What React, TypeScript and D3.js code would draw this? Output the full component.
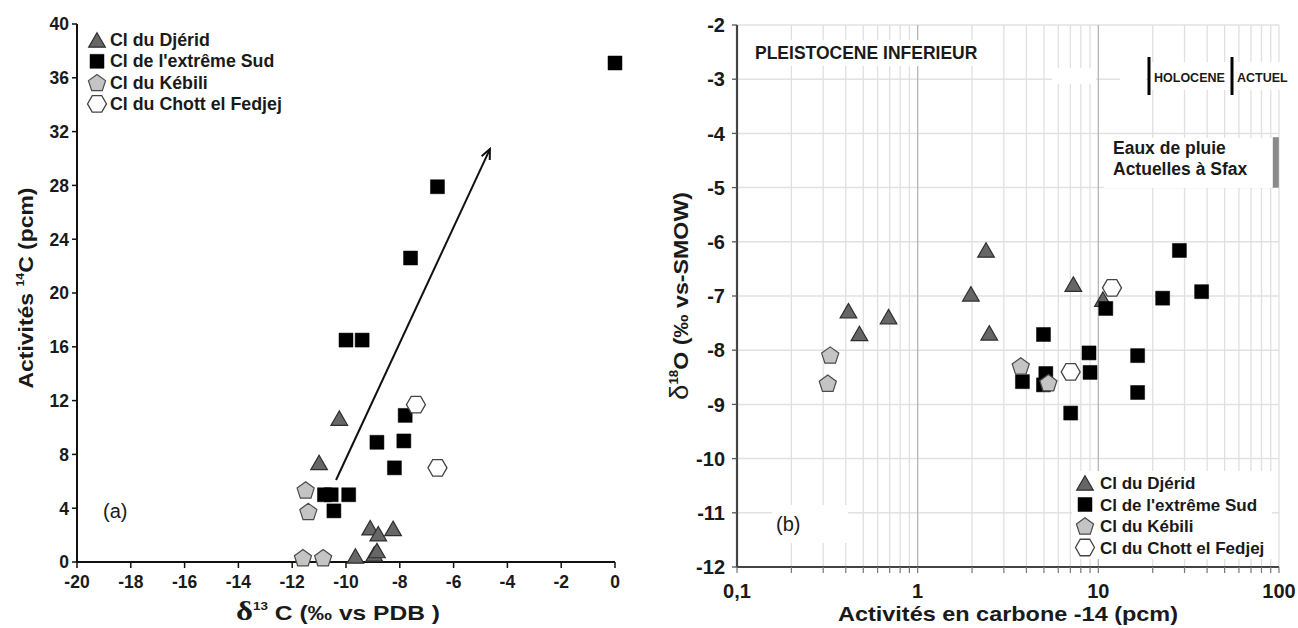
import React from 'react';
import * as d3 from 'd3';

type P = { x: number; y: number };

// ---------- Panel (a): δ13C vs 14C activity ----------
const djeridA: P[] = [
  { x: -10.25, y: 10.7 }, { x: -11.0, y: 7.4 }, { x: -9.1, y: 2.55 }, { x: -8.8, y: 2.1 },
  { x: -8.25, y: 2.5 }, { x: -9.65, y: 0.45 }, { x: -8.95, y: 0.6 }, { x: -8.85, y: 0.85 },
];
const sudA: P[] = [
  { x: 0, y: 37.1 }, { x: -6.6, y: 27.9 }, { x: -7.6, y: 22.6 }, { x: -10.0, y: 16.5 },
  { x: -9.4, y: 16.5 }, { x: -7.8, y: 10.9 }, { x: -8.85, y: 8.9 }, { x: -7.85, y: 9.0 },
  { x: -8.2, y: 7.0 }, { x: -10.8, y: 5.0 }, { x: -10.55, y: 5.0 }, { x: -9.9, y: 5.0 },
  { x: -10.45, y: 3.8 },
];
const kebiliA: P[] = [
  { x: -11.5, y: 5.35 }, { x: -11.4, y: 3.75 }, { x: -11.6, y: 0.32 }, { x: -10.85, y: 0.32 },
];
const fedjejA: P[] = [{ x: -7.4, y: 11.7 }, { x: -6.6, y: 7.0 }];
const arrowA: P[] = [{ x: -10.37, y: 6.1 }, { x: -4.65, y: 30.7 }];
const xTicksA = [-20, -18, -16, -14, -12, -10, -8, -6, -4, -2, 0];
const yTicksA = [0, 4, 8, 12, 16, 20, 24, 28, 32, 36, 40];

// ---------- Panel (b): 14C activity vs δ18O ----------
const djeridB: P[] = [
  { x: 0.414, y: -7.27 }, { x: 0.476, y: -7.69 }, { x: 0.69, y: -7.38 }, { x: 2.39, y: -6.15 },
  { x: 1.97, y: -6.96 }, { x: 2.49, y: -7.68 }, { x: 7.27, y: -6.78 }, { x: 10.6, y: -7.06 },
];
const sudB: P[] = [
  { x: 28.1, y: -6.16 }, { x: 22.7, y: -7.04 }, { x: 37.3, y: -6.92 }, { x: 11.0, y: -7.23 },
  { x: 4.97, y: -7.71 }, { x: 8.88, y: -8.05 }, { x: 16.5, y: -8.1 }, { x: 9.0, y: -8.41 },
  { x: 5.12, y: -8.43 }, { x: 3.8, y: -8.58 }, { x: 4.97, y: -8.64 }, { x: 16.5, y: -8.78 },
  { x: 7.03, y: -9.16 },
];
const kebiliB: P[] = [
  { x: 0.328, y: -8.09 }, { x: 0.318, y: -8.61 }, { x: 3.72, y: -8.29 }, { x: 5.29, y: -8.6 },
];
const fedjejB: P[] = [{ x: 11.9, y: -6.85 }, { x: 7.03, y: -8.4 }];
const rainSfax = { x: 96, y0: -4.07, y1: -5.0 };
const xMajorB = [0.1, 1, 10, 100];
const xMajorLabelsB = ['0,1', '1', '10', '100'];
const yTicksB = [-2, -3, -4, -5, -6, -7, -8, -9, -10, -11, -12];

const legendLabels = ['Cl du Djérid', "Cl de l'extrême Sud", 'Cl du Kébili', 'Cl du Chott el Fedjej'];

const FONT = "'Liberation Sans', Arial, Helvetica, sans-serif";

function poly(n: number, r: number, start: number, dy = 0): string {
  const pts: [number, number][] = [];
  for (let i = 0; i < n; i++) {
    const a = start + (i * 2 * Math.PI) / n;
    pts.push([r * Math.cos(a), r * Math.sin(a) + dy]);
  }
  return d3.line()(pts.concat([pts[0]])) + 'Z';
}

const shapes: Record<string, { d: string; fill: string; stroke: string; sw: number }> = {
  tri: { d: poly(3, 9.6, -Math.PI / 2, 9.6 / 4), fill: '#666666', stroke: '#2e2e2e', sw: 1.2 },
  sq: { d: 'M-7,-7H7V7H-7Z', fill: '#000', stroke: '#000', sw: 0.5 },
  pent: { d: poly(5, 9, -Math.PI / 2, 0.8), fill: '#c4c4c4', stroke: '#4a4a4a', sw: 1.2 },
  hex: { d: poly(6, 9.5, 0), fill: '#fff', stroke: '#444', sw: 1.3 },
};
const legendKeys = ['tri', 'sq', 'pent', 'hex'];

function Mark({ k, x, y, s = 1 }: { k: string; x: number; y: number; s?: number }) {
  const sh = shapes[k];
  return (
    <path d={sh.d} transform={`translate(${x},${y}) scale(${s})`} fill={sh.fill} stroke={sh.stroke} strokeWidth={sh.sw} />
  );
}

export default function App() {
  // scales panel (a)
  const xA = d3.scaleLinear().domain([-20, 0]).range([77, 615]);
  const yA = d3.scaleLinear().domain([0, 40]).range([562, 24]);
  // scales panel (b)
  const xB = d3.scaleLog().domain([0.1, 100]).range([737, 1279]);
  const yB = d3.scaleLinear().domain([-12, -2]).range([567, 25]);

  const minorB: number[] = [];
  [0.1, 1, 10].forEach((d) => {
    for (let i = 2; i <= 9; i++) minorB.push(d * i);
  });

  const seriesA: [string, P[]][] = [['tri', djeridA], ['sq', sudA], ['pent', kebiliA], ['hex', fedjejA]];
  const seriesB: [string, P[]][] = [['tri', djeridB], ['sq', sudB], ['pent', kebiliB], ['hex', fedjejB]];

  // arrow geometry
  const ax0 = xA(arrowA[0].x), ay0 = yA(arrowA[0].y), ax1 = xA(arrowA[1].x), ay1 = yA(arrowA[1].y);
  const ang = Math.atan2(ay1 - ay0, ax1 - ax0);
  const hl = 11, ha = 0.42;
  const head = `M${ax1 - hl * Math.cos(ang - ha)},${ay1 - hl * Math.sin(ang - ha)}L${ax1},${ay1}L${ax1 - hl * Math.cos(ang + ha)},${ay1 - hl * Math.sin(ang + ha)}`;

  return (
    <svg width={1298} height={628} style={{ position: 'absolute', left: 0, top: 0, background: '#fff' }} fontFamily={FONT}>
      <rect x={0} y={0} width={1298} height={628} fill="#fff" />

      {/* ===================== Panel (a) ===================== */}
      <g>
        {/* axes */}
        <line x1={xA(-20)} x2={xA(-20)} y1={yA(40)} y2={yA(0) + 1} stroke="#111" strokeWidth={2} />
        <line x1={xA(-20) - 1} x2={xA(0)} y1={yA(0)} y2={yA(0)} stroke="#111" strokeWidth={2} />
        {yTicksA.map((t) => (
          <g key={'ya' + t}>
            <line x1={xA(-20) - 5} x2={xA(-20)} y1={yA(t)} y2={yA(t)} stroke="#111" strokeWidth={1.5} />
            <text x={69} y={yA(t)} dy="0.36em" textAnchor="end" fontSize={17.5} fontWeight="bold" fill="#1a1a1a">{t}</text>
          </g>
        ))}
        {xTicksA.map((t) => (
          <g key={'xa' + t}>
            <line x1={xA(t)} x2={xA(t)} y1={yA(0)} y2={yA(0) + 6} stroke="#111" strokeWidth={1.5} />
            <text x={xA(t)} y={588} textAnchor="middle" fontSize={17.5} fontWeight="bold" fill="#1a1a1a">{t}</text>
          </g>
        ))}
        {/* axis titles */}
        <text transform="translate(33,288) rotate(-90)" textAnchor="middle" fontSize={20.5} fontWeight="bold" fill="#1a1a1a"
          textLength={201} lengthAdjust="spacingAndGlyphs">
          Activités <tspan fontSize={11} dy={-9}>14</tspan><tspan dy={9}>C (pcm)</tspan>
        </text>
        <text x={236} y={620} fontSize={21} fontWeight="bold" fill="#1a1a1a" textLength={204} lengthAdjust="spacingAndGlyphs">
          <tspan fontFamily="'Liberation Serif', 'DejaVu Serif', serif" fontSize={28}>δ</tspan>
          <tspan fontSize={11.5} dy={-10}>13</tspan>
          <tspan dy={10}> C (‰ vs PDB )</tspan>
        </text>

        {/* legend */}
        {legendKeys.map((k, i) => (
          <g key={'la' + k}>
            <Mark k={k} x={97} y={40 + i * 21.3} />
            <text x={110} y={40 + i * 21.3 + 6} fontSize={17.8} fontWeight="bold" fill="#1a1a1a">{legendLabels[i]}</text>
          </g>
        ))}

        {/* (a) */}
        <rect x={98} y={492} width={79} height={38} fill="#fff" />
        <text x={103} y={518} fontSize={20} fill="#1a1a1a">(a)</text>

        {/* arrow */}
        <line x1={ax0} y1={ay0} x2={ax1} y2={ay1} stroke="#111" strokeWidth={2} />
        <path d={head} fill="none" stroke="#111" strokeWidth={2} />

        {/* data */}
        {seriesA.map(([k, pts]) =>
          pts.map((p, i) => <Mark key={k + 'a' + i} k={k} x={xA(p.x)} y={yA(p.y)} />)
        )}
      </g>

      {/* ===================== Panel (b) ===================== */}
      <g>
        {/* grid */}
        {yTicksB.slice(0, -1).map((t) => (
          <line key={'gy' + t} x1={xB(0.1)} x2={xB(100)} y1={yB(t)} y2={yB(t)} stroke="#e2e2e2" strokeWidth={1.5} />
        ))}
        {minorB.map((t) => (
          <line key={'gx' + t} x1={xB(t)} x2={xB(t)} y1={yB(-2)} y2={yB(-12)} stroke="#e0e0e0" strokeWidth={1.3} />
        ))}
        <line x1={xB(100)} x2={xB(100)} y1={yB(-2)} y2={yB(-12)} stroke="#e0e0e0" strokeWidth={1.3} />
        {[1, 10].map((t) => (
          <line key={'gm' + t} x1={xB(t)} x2={xB(t)} y1={yB(-2)} y2={yB(-12)} stroke="#b5b5b5" strokeWidth={1.3} />
        ))}

        {/* white boxes behind annotations */}
        <rect x={752} y={40} width={232} height={26} fill="#fff" />
        <rect x={1052} y={68} width={44} height={16} fill="#fff" />
        <rect x={1120} y={68} width={26} height={16} fill="#fff" />
        <rect x={1150} y={62} width={140} height={28} fill="#fff" />
        <rect x={1104} y={138} width={168} height={50} fill="#fff" />
        <rect x={1072} y={471} width={200} height={88} fill="#fff" />
        <rect x={772} y={505} width={76} height={38} fill="#fff" />

        {/* axes */}
        <line x1={xB(0.1)} x2={xB(0.1)} y1={yB(-2)} y2={yB(-12) + 1} stroke="#444" strokeWidth={2.2} />
        <line x1={xB(0.1) - 1} x2={xB(100)} y1={yB(-12)} y2={yB(-12)} stroke="#444" strokeWidth={2.2} />
        {yTicksB.map((t) => (
          <g key={'yb' + t}>
            <line x1={xB(0.1) - 5} x2={xB(0.1)} y1={yB(t)} y2={yB(t)} stroke="#555" strokeWidth={1.3} />
            <text x={725} y={yB(t)} dy="0.36em" textAnchor="end" fontSize={20} fontWeight="bold" fill="#1a1a1a">{t}</text>
          </g>
        ))}
        {minorB.concat(xMajorB).map((t) => (
          <line key={'tb' + t} x1={xB(t)} x2={xB(t)} y1={yB(-12)} y2={yB(-12) + 6} stroke="#777" strokeWidth={1.2} />
        ))}
        {xMajorB.map((t, i) => (
          <text key={'xb' + t} x={xB(t)} y={598} textAnchor="middle" fontSize={20} fontWeight="bold" fill="#1a1a1a">{xMajorLabelsB[i]}</text>
        ))}

        {/* axis titles */}
        <text transform="translate(688,296) rotate(-90)" textAnchor="middle" fontSize={21} fontWeight="bold" fill="#1a1a1a"
          textLength={208} lengthAdjust="spacingAndGlyphs">
          <tspan fontWeight="normal" fontSize={25}>δ</tspan>
          <tspan fontSize={12} dy={-10}>18</tspan>
          <tspan dy={10}>O (‰ vs-SMOW)</tspan>
        </text>
        <text x={1008} y={621} textAnchor="middle" fontSize={21} fontWeight="bold" fill="#1a1a1a"
          textLength={340} lengthAdjust="spacingAndGlyphs">Activités en carbone -14 (pcm)</text>

        {/* annotations */}
        <text x={755} y={59} fontSize={17.5} fontWeight="bold" fill="#1a1a1a">PLEISTOCENE INFERIEUR</text>
        <line x1={1149} x2={1149} y1={57} y2={95} stroke="#000" strokeWidth={3} />
        <line x1={1232} x2={1232} y1={57} y2={95} stroke="#000" strokeWidth={3} />
        <text x={1154} y={82} fontSize={12.5} fontWeight="bold" fill="#1a1a1a">HOLOCENE</text>
        <text x={1237} y={82} fontSize={12.5} fontWeight="bold" fill="#1a1a1a">ACTUEL</text>
        <text x={1113} y={154} fontSize={17.5} fontWeight="bold" fill="#1a1a1a">Eaux de pluie</text>
        <text x={1113} y={175} fontSize={17.5} fontWeight="bold" fill="#1a1a1a">Actuelles à Sfax</text>
        <rect x={xB(rainSfax.x) - 3} y={yB(rainSfax.y0)} width={6} height={yB(rainSfax.y1) - yB(rainSfax.y0)} fill="#8a8a8a" />

        {/* legend */}
        {legendKeys.map((k, i) => (
          <g key={'lb' + k}>
            <Mark k={k} x={1085} y={483 + i * 21.5} />
            <text x={1100} y={483 + i * 21.5 + 6} fontSize={17} fontWeight="bold" fill="#1a1a1a">{legendLabels[i]}</text>
          </g>
        ))}

        {/* (b) */}
        <text x={776} y={531} fontSize={20} fill="#1a1a1a">(b)</text>

        {/* data */}
        {seriesB.map(([k, pts]) =>
          pts.map((p, i) => <Mark key={k + 'b' + i} k={k} x={xB(p.x)} y={yB(p.y)} />)
        )}
      </g>
    </svg>
  );
}
